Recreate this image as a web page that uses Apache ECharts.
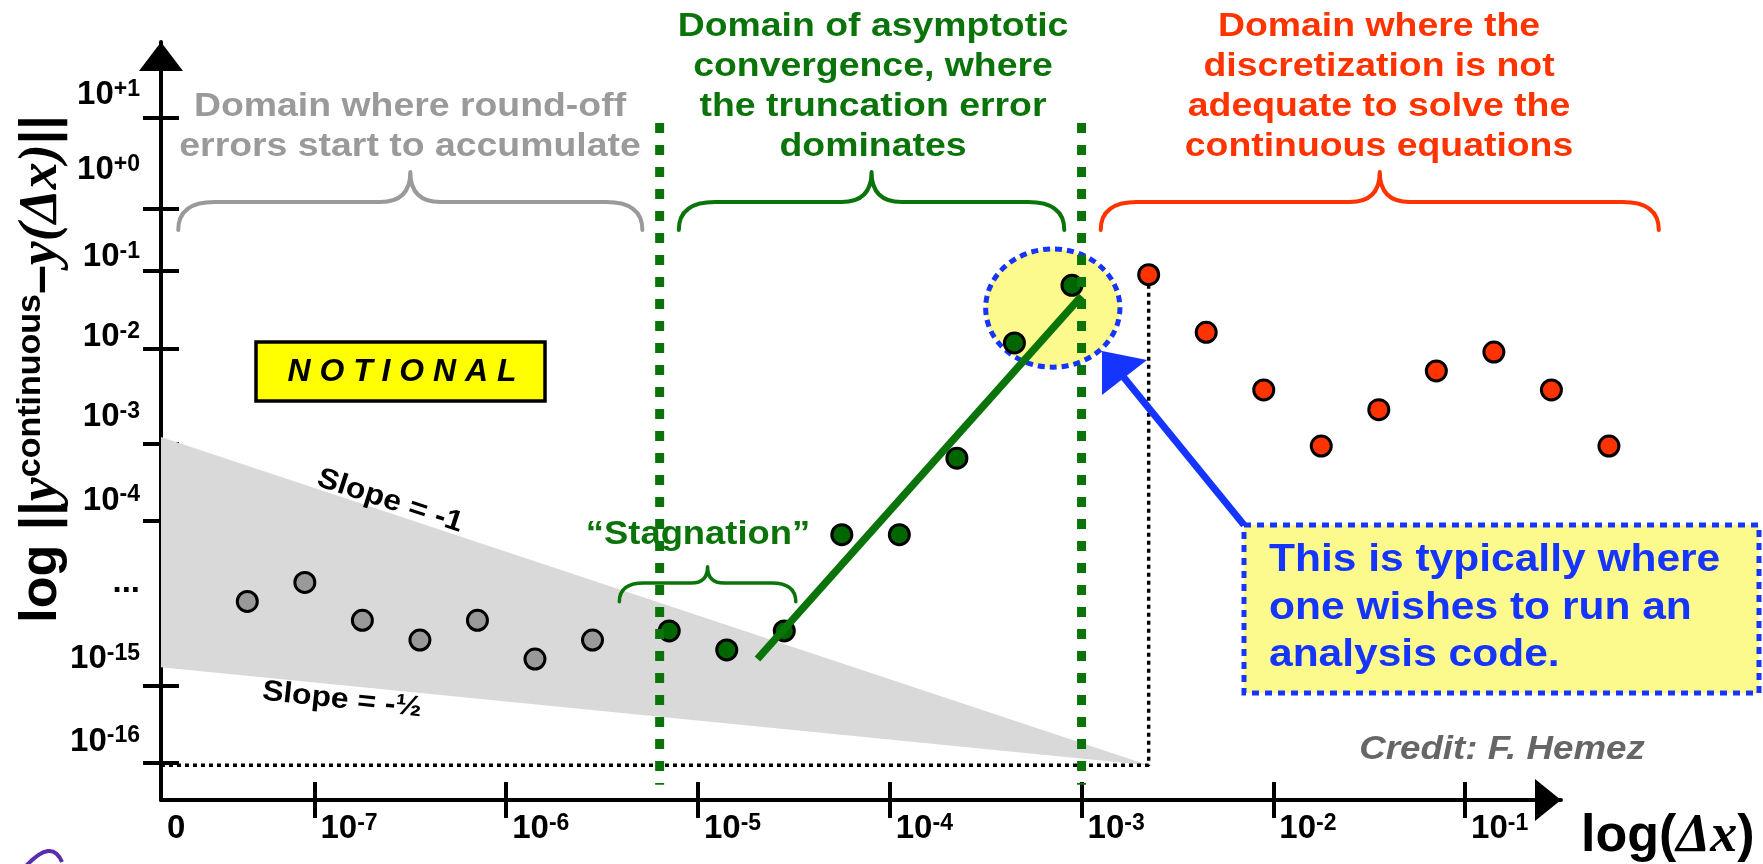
<!DOCTYPE html>
<html>
<head>
<meta charset="utf-8">
<script src="https://cdn.jsdelivr.net/npm/echarts@6/dist/echarts.min.js"></script>
<style>
  html, body { margin: 0; padding: 0; background: #fff; }
  #chart { width: 1763px; height: 864px; }
</style>
</head>
<body>
<div id="chart"></div>
<script>
// ---- Horizontal scale: log10 of the grid spacing Δx ----
const xTickExponents = [-7, -6, -5, -4, -3, -2, -1];
const xLabelValues = [-7.8, -7, -6, -5, -4, -3, -2, -1];
const xLabelTexts = ['0', '10{s|-7}', '10{s|-6}', '10{s|-5}', '10{s|-4}', '10{s|-3}', '10{s|-2}', '10{s|-1}'];

// ---- Vertical scale: notional error level (0 on the Δx axis, 100 at the arrow) ----
const yTickLevels = [90.07, 78.06, 69.79, 59.59, 46.97, 36.81, 15.08, 4.97];
const yLabelLevels = [93.0, 83.1, 71.6, 61.1, 50.5, 39.5, 28.6, 18.6, 7.7];
const yLabelTexts = ['10{s|+1}', '10{s|+0}', '10{s|-1}', '10{s|-2}', '10{s|-3}', '10{s|-4}', '...', '10{s|-15}', '10{s|-16}'];

// ---- Solutions: round-off regime (grey) ----
const roundoffX = [-7.35, -7.05, -6.75, -6.45, -6.15, -5.85, -5.55];
const roundoffY = [26.2, 28.7, 23.7, 21.1, 23.7, 18.6, 21.1];

// ---- Solutions: asymptotic regime (green) ----
const asymptoticX = [-5.15, -4.85, -4.55, -4.25, -3.95, -3.65, -3.35, -3.05];
const asymptoticY = [22.3, 19.8, 22.3, 35.0, 35.0, 45.1, 60.3, 67.9];

// ---- Solutions: inadequate discretization (red) ----
const coarseX = [-2.65, -2.35, -2.05, -1.75, -1.45, -1.15, -0.85, -0.55, -0.25];
const coarseY = [69.3, 61.7, 54.1, 46.7, 51.5, 56.6, 59.1, 54.1, 46.7];

// ---- Convergence trend line ----
const fitX = [-4.69, -3.0];
const fitY = [18.6, 66.5];

// ---- Round-off accumulation wedge (slope -1 above, slope -1/2 below) ----
const bandX = [-7.8, -2.65];
const bandUpperY = [47.9, 4.6];
const bandLowerY = [17.5, 4.6];

// ---- Floor of the error and edges of the asymptotic domain ----
const floorLevel = 4.6;
const domainEdges = [-5.2, -3.0];
const domainEdgeSpan = [89.3, 2.0];

// ---- Braces over each domain and over the stagnation zone ----
const braceFrom = [-7.71, -5.10, -2.90, -5.41];
const braceTo = [-5.29, -3.09, 0.01, -4.49];
const bracePeak = [82.85, 82.85, 82.85, 30.78];
const braceBar = [78.89, 78.89, 78.89, 28.63];
const braceFoot = [75.2, 75.2, 75.2, 26.16];

// ---- Highlighted sweet spot ----
const highlightCenter = [-3.15, 64.9];

// ---------------------------------------------------------------
const SANS = '"Liberation Sans", Arial, Helvetica, sans-serif';
const SERIF = '"Liberation Serif", "Times New Roman", serif';
const GREEN = '#0a740a';
const GREEN_DOT = '#006600';
const RED = '#ff3300';
const GREY = '#9a9a9a';
const BLUE = '#1535ff';
const PALE = '#fcfa8c';
const braceColors = [GREY, GREEN, RED, GREEN];
const braceWidths = [4, 4, 4, 3.5];
const highlightRadius = [0.35, 7.8];
const dotSize = 20;

const xMin = -7.8, xMax = -0.5;
const yMin = 0, yMax = 100;

function nearestText(values, texts) {
  return function (v) {
    let k = 0, best = Infinity;
    values.forEach(function (u, i) {
      const d = Math.abs(u - v);
      if (d < best) { best = d; k = i; }
    });
    return texts[k];
  };
}

const supStyle = { color: '#000', fontFamily: SANS, fontWeight: 'bold', fontSize: 23, lineHeight: 22, verticalAlign: 'top' };
const tickLabelBase = { color: '#000', fontFamily: SANS, fontWeight: 'bold', fontSize: 33, lineHeight: 34, rich: { s: supStyle } };
const axisStroke = { color: '#000', width: 4 };

const chart = echarts.init(document.getElementById('chart'), null, { renderer: 'canvas' });

function braceItem(params, api) {
  const i = params.dataIndex;
  const pL = api.coord([api.value(0), api.value(4)]);
  const pR = api.coord([api.value(1), api.value(4)]);
  const pk = api.coord([(api.value(0) + api.value(1)) / 2, api.value(2)]);
  const bar = api.coord([api.value(0), api.value(3)])[1];
  const r1 = (pL[1] - bar) * 1.3;
  const r2 = (bar - pk[1]) * 1.0;
  const d = [
    'M', pL[0], pL[1],
    'Q', pL[0], bar, pL[0] + r1, bar,
    'L', pk[0] - r2, bar,
    'Q', pk[0], bar, pk[0], pk[1],
    'Q', pk[0], bar, pk[0] + r2, bar,
    'L', pR[0] - r1, bar,
    'Q', pR[0], bar, pR[0], pR[1]
  ].join(' ');
  return {
    type: 'path',
    shape: { pathData: d },
    style: { fill: 'none', stroke: braceColors[i], lineWidth: braceWidths[i], lineCap: 'round', lineJoin: 'round' }
  };
}

function bandItem(params, api) {
  const pts = [];
  bandX.forEach(function (x, i) { pts.push(api.coord([x, bandUpperY[i]])); });
  for (let i = bandX.length - 1; i >= 0; i--) pts.push(api.coord([bandX[i], bandLowerY[i]]));
  return { type: 'polygon', shape: { points: pts }, style: { fill: '#d9d9d9', stroke: 'none' } };
}

function highlightItem(params, api) {
  const c = api.coord([api.value(0), api.value(1)]);
  const s = api.size(highlightRadius);
  const rx = s[0], ry = s[1];
  const d = 'M ' + (c[0] - rx) + ' ' + c[1] +
    ' A ' + rx + ' ' + ry + ' 0 1 0 ' + (c[0] + rx) + ' ' + c[1] +
    ' A ' + rx + ' ' + ry + ' 0 1 0 ' + (c[0] - rx) + ' ' + c[1] + ' Z';
  return {
    type: 'path',
    shape: { pathData: d },
    style: { fill: PALE, stroke: BLUE, lineWidth: 5, lineDash: [7, 5] }
  };
}

function pts(xs, ys) { return xs.map(function (x, i) { return [x, ys[i]]; }); }

const series = [
  {
    name: 'Round-off wedge', type: 'custom', z: 1, silent: true,
    data: [[bandX[0], bandUpperY[0]]], renderItem: bandItem
  },
  {
    name: 'Sweet spot', type: 'custom', z: 2, silent: true,
    data: [highlightCenter], renderItem: highlightItem
  },
  {
    name: 'Error floor', type: 'line', z: 3, silent: true, symbol: 'none',
    data: [[xMin, floorLevel], [coarseX[0], floorLevel], [coarseX[0], coarseY[0]]],
    lineStyle: { color: '#000', width: 3.5, type: [4, 4] }
  },
  {
    name: 'Round-off', type: 'scatter', z: 4, symbol: 'circle', symbolSize: dotSize,
    data: pts(roundoffX, roundoffY),
    itemStyle: { color: '#999999', borderColor: '#000', borderWidth: 3, opacity: 1 }
  },
  {
    name: 'Asymptotic', type: 'scatter', z: 4, symbol: 'circle', symbolSize: dotSize,
    data: pts(asymptoticX, asymptoticY),
    itemStyle: { color: GREEN_DOT, borderColor: '#000', borderWidth: 3, opacity: 1 }
  },
  {
    name: 'Inadequate', type: 'scatter', z: 4, symbol: 'circle', symbolSize: dotSize, clip: false,
    data: pts(coarseX, coarseY),
    itemStyle: { color: RED, borderColor: '#000', borderWidth: 3, opacity: 1 }
  },
  {
    name: 'Convergence trend', type: 'line', z: 5, silent: true, symbol: 'none',
    data: pts(fitX, fitY),
    lineStyle: { color: GREEN, width: 7.5, cap: 'butt' }
  },
  {
    name: 'Braces', type: 'custom', z: 6, silent: true,
    data: braceFrom.map(function (x, i) { return [x, braceTo[i], bracePeak[i], braceBar[i], braceFoot[i]]; }),
    renderItem: braceItem
  }
];

domainEdges.forEach(function (x, i) {
  series.push({
    name: 'Domain edge ' + (i + 1), type: 'line', z: 7, silent: true, symbol: 'none',
    data: [[x, domainEdgeSpan[0]], [x, domainEdgeSpan[1]]],
    lineStyle: { color: GREEN, width: 9, type: [10, 12], cap: 'butt' }
  });
});

function textEl(x, y, text, opts) {
  return Object.assign({
    type: 'text', x: x, y: y, z: 10, silent: true,
    style: Object.assign({
      text: text, fill: '#000', fontFamily: SANS, fontWeight: 'bold', fontSize: 34,
      align: 'center', verticalAlign: 'middle', lineHeight: 40
    }, opts.style || {})
  }, opts.el || {});
}

const graphics = [
  // y axis title
  {
    type: 'text', x: 42, y: 369, rotation: Math.PI / 2, z: 10, silent: true,
    style: {
      text: '{a|log ||}{t|y}{s|continuous}{a|–}{t|y(Δx)}{a|||}',
      align: 'center', verticalAlign: 'middle',
      rich: {
        a: { fill: '#000', fontFamily: SANS, fontWeight: 'bold', fontSize: 52, lineHeight: 56 },
        t: { fill: '#000', fontFamily: SERIF, fontWeight: 'bold', fontStyle: 'italic', fontSize: 54, lineHeight: 56 },
        s: { fill: '#000', fontFamily: SANS, fontWeight: 'bold', fontSize: 34, lineHeight: 24, verticalAlign: 'top' }
      }
    }
  },
  // x axis title
  {
    type: 'text', x: 1581, y: 837, z: 10, silent: true,
    style: {
      text: '{a|log(}{t|Δx}{a|)}',
      align: 'left', verticalAlign: 'middle',
      rich: {
        a: { fill: '#000', fontFamily: SANS, fontWeight: 'bold', fontSize: 52, lineHeight: 56 },
        t: { fill: '#000', fontFamily: SERIF, fontWeight: 'bold', fontStyle: 'italic', fontSize: 54, lineHeight: 56 }
      }
    }
  },
  textEl(410, 127, 'Domain where round-off\nerrors start to accumulate', { el: { scaleX: 1.1 }, style: { fill: GREY } }),
  textEl(873, 87, 'Domain of asymptotic\nconvergence, where\nthe truncation error\ndominates', { el: { scaleX: 1.1 }, style: { fill: GREEN } }),
  textEl(1379, 87, 'Domain where the\ndiscretization is not\nadequate to solve the\ncontinuous equations', { el: { scaleX: 1.1 }, style: { fill: RED } }),
  textEl(698, 535, '\u201CStagnation\u201D', { el: { scaleX: 1.07 }, style: { fill: GREEN } }),
  textEl(390, 501, 'Slope = -1', { el: { scaleX: 1.1, rotation: -18 * Math.PI / 180 }, style: { fontSize: 29 } }),
  textEl(342, 700, 'Slope = -\u00BD', { el: { scaleX: 1.1, rotation: -6 * Math.PI / 180 }, style: { fontSize: 29 } }),
  // NOTIONAL stamp
  {
    type: 'rect', z: 10, silent: true,
    shape: { x: 256, y: 342, width: 289, height: 59 },
    style: { fill: '#ffff00', stroke: '#000', lineWidth: 3.5 }
  },
  textEl(402, 372, 'N O T I O N A L', { el: { scaleX: 1.03 }, style: { fontSize: 31, fontStyle: 'italic' } }),
  textEl(1502, 750, 'Credit: F. Hemez', { el: { scaleX: 1.08 }, style: { fill: '#666666', fontStyle: 'italic' } }),
  // callout
  {
    type: 'line', z: 10, silent: true,
    shape: { x1: 1244, y1: 525, x2: 1121, y2: 374 },
    style: { stroke: BLUE, lineWidth: 7 }
  },
  {
    type: 'polygon', z: 10, silent: true,
    shape: { points: [[1102, 351], [1147, 360], [1102, 395]] },
    style: { fill: BLUE }
  },
  {
    type: 'rect', z: 10, silent: true,
    shape: { x: 1244, y: 525, width: 515, height: 168 },
    style: { fill: PALE, stroke: BLUE, lineWidth: 5, lineDash: [7, 6] }
  },
  textEl(1269, 608, 'This is typically where\none wishes to run an\nanalysis code.', {
    el: { scaleX: 1.09 },
    style: { fill: BLUE, fontSize: 39, lineHeight: 47.5, align: 'left' }
  }),
  // logo fragment at the slide corner
  {
    type: 'bezierCurve', z: 10, silent: true,
    shape: { x1: 26, y1: 866, x2: 62, y2: 862, cpx1: 52, cpy1: 838 },
    style: { fill: 'none', stroke: '#5b2bb0', lineWidth: 4 }
  }
];

const option = {
  animation: false,
  backgroundColor: '#ffffff',
  grid: { left: 161, right: 202, top: 42, bottom: 64, containLabel: false, outerBoundsMode: 'none' },
  xAxis: [
    {
      type: 'value', min: xMin, max: xMax, position: 'bottom',
      axisLine: { show: true, onZero: false, lineStyle: axisStroke, symbol: ['none', 'triangle'], symbolSize: [42, 26], symbolOffset: [0, -13] },
      axisTick: { show: true, customValues: xTickExponents, length: 18, inside: false, lineStyle: axisStroke },
      axisLabel: Object.assign({
        show: true, customValues: xLabelValues, align: 'left', margin: 12, padding: [0, 0, 0, 6],
        formatter: nearestText(xLabelValues, xLabelTexts)
      }, tickLabelBase),
      splitLine: { show: false }
    },
    {
      type: 'value', min: xMin, max: xMax, position: 'bottom',
      axisLine: { show: false },
      axisTick: { show: true, customValues: xTickExponents, length: 18, inside: true, lineStyle: axisStroke },
      axisLabel: { show: false },
      splitLine: { show: false }
    }
  ],
  yAxis: [
    {
      type: 'value', min: yMin, max: yMax, position: 'left',
      axisLine: { show: true, onZero: false, lineStyle: axisStroke, symbol: ['none', 'triangle'], symbolSize: [44, 29], symbolOffset: [0, -14.5] },
      axisTick: { show: true, customValues: yTickLevels, length: 18, inside: false, lineStyle: axisStroke },
      axisLabel: Object.assign({
        show: true, customValues: yLabelLevels, align: 'right', margin: 21,
        formatter: nearestText(yLabelLevels, yLabelTexts)
      }, tickLabelBase),
      splitLine: { show: false }
    },
    {
      type: 'value', min: yMin, max: yMax, position: 'left',
      axisLine: { show: false },
      axisTick: { show: true, customValues: yTickLevels, length: 18, inside: true, lineStyle: axisStroke },
      axisLabel: { show: false },
      splitLine: { show: false }
    }
  ],
  series: series,
  graphic: graphics
};

chart.setOption(option);
</script>
</body>
</html>
